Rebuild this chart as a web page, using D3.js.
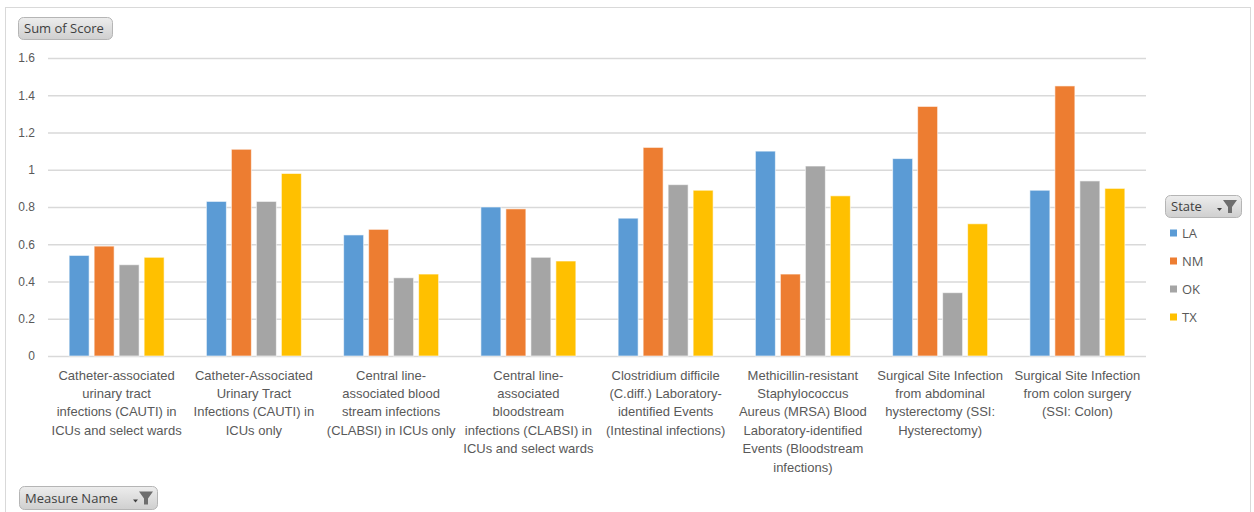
<!DOCTYPE html>
<html>
<head>
<meta charset="utf-8">
<script src="https://cdn.jsdelivr.net/npm/d3@7/dist/d3.min.js"></script>
<style>
  html, body { margin: 0; padding: 0; background: #fff; }
  svg { display: block; font-family: "Open Sans", "DejaVu Sans", sans-serif; }
</style>
</head>
<body>
<svg id="chart" width="1254" height="512"></svg>
<script>
// Measures (x-axis categories), wrapped into the lines shown under each group
const categoryLines = [
  ["Catheter-associated", "urinary tract", "infections (CAUTI) in", "ICUs and select wards"],
  ["Catheter-Associated", "Urinary Tract", "Infections (CAUTI) in", "ICUs only"],
  ["Central line-", "associated blood", "stream infections", "(CLABSI) in ICUs only"],
  ["Central line-", "associated", "bloodstream", "infections (CLABSI) in", "ICUs and select wards"],
  ["Clostridium difficile", "(C.diff.) Laboratory-", "identified Events", "(Intestinal infections)"],
  ["Methicillin-resistant", "Staphylococcus", "Aureus (MRSA) Blood", "Laboratory-identified", "Events (Bloodstream", "infections)"],
  ["Surgical Site Infection", "from abdominal", "hysterectomy (SSI:", "Hysterectomy)"],
  ["Surgical Site Infection", "from colon surgery", "(SSI: Colon)"]
];
const categories = categoryLines.map(l => l.join(" "));

// States (series)
const states = ["LA", "NM", "OK", "TX"];
const stateColors = ["#5B9BD5", "#ED7D31", "#A5A5A5", "#FFC000"];

// Sum of Score per measure, one array per state
const scoreLA = [0.54, 0.83, 0.65, 0.80, 0.74, 1.10, 1.06, 0.89];
const scoreNM = [0.59, 1.11, 0.68, 0.79, 1.12, 0.44, 1.34, 1.45];
const scoreOK = [0.49, 0.83, 0.42, 0.53, 0.92, 1.02, 0.34, 0.94];
const scoreTX = [0.53, 0.98, 0.44, 0.51, 0.89, 0.86, 0.71, 0.90];
const seriesValues = [scoreLA, scoreNM, scoreOK, scoreTX];

// Y axis ticks
const yTicks = [0, 0.2, 0.4, 0.6, 0.8, 1, 1.2, 1.4, 1.6];

const svg = d3.select("#chart");
const plot = { left: 48, right: 1146, top: 58, bottom: 356 };

// Chart frame
svg.append("rect")
  .attr("x", 5.5).attr("y", 7.5)
  .attr("width", 1245).attr("height", 520)
  .attr("fill", "#fff").attr("stroke", "#D9D9D9").attr("stroke-width", 1);

const y = d3.scaleLinear().domain([0, 1.6]).range([plot.bottom, plot.top]);
const x0 = d3.scaleBand().domain(categories).range([plot.left, plot.right]).padding(0);
const groupW = x0.bandwidth() * 0.692;
const x1 = d3.scaleBand().domain(states)
  .range([(x0.bandwidth() - groupW) / 2, (x0.bandwidth() + groupW) / 2])
  .paddingInner(0.2).paddingOuter(0);

// Gridlines and y labels
const yAxis = d3.axisLeft(y).tickValues(yTicks)
  .tickSize(-(plot.right - plot.left)).tickPadding(13)
  .tickFormat(d => d3.format("")(d));
const gy = svg.append("g").attr("transform", `translate(${plot.left},0)`).call(yAxis);
gy.select(".domain").remove();
gy.selectAll(".tick line").attr("stroke", "#D9D9D9").attr("stroke-width", 1.3);
gy.selectAll(".tick text").attr("fill", "#595959").style("font-size", "12px");

// Bars
const groups = svg.append("g").selectAll("g")
  .data(categories).join("g")
  .attr("transform", d => `translate(${x0(d)},0)`);
groups.selectAll("rect")
  .data((d, i) => states.map((s, j) => ({ state: s, value: seriesValues[j][i], color: stateColors[j] })))
  .join("rect")
  .attr("x", d => x1(d.state))
  .attr("width", x1.bandwidth())
  .attr("y", d => y(d.value))
  .attr("height", d => y(0) - y(d.value))
  .attr("fill", d => d.color)
  .attr("stroke", "#fff").attr("stroke-opacity", 0.6).attr("stroke-width", 1);

// Category labels
const xAxis = d3.axisBottom(x0).tickSize(0).tickFormat("");
const gx = svg.append("g").attr("transform", `translate(0,${plot.bottom})`).call(xAxis);
gx.select(".domain").remove();
gx.selectAll(".tick").each(function(d, i) {
  const t = d3.select(this).append("text")
    .attr("text-anchor", "middle").attr("fill", "#595959")
    .style("font-size", "13px");
  categoryLines[i].forEach((line, k) => {
    t.append("tspan").attr("x", 0).attr("y", 23.5 + k * 18.4).text(line);
  });
});

// Field button helper
function fieldButton(x, yy, w, h, label, withFilter) {
  const id = "btn-" + label.replace(/\s/g, "");
  const g = svg.append("g").attr("transform", `translate(${x},${yy})`);
  const grad = svg.append("defs").append("linearGradient")
    .attr("id", id).attr("x1", 0).attr("y1", 0).attr("x2", 0).attr("y2", 1);
  grad.append("stop").attr("offset", 0).attr("stop-color", "#EDEDED");
  grad.append("stop").attr("offset", 1).attr("stop-color", "#CFCFCF");
  g.append("rect").attr("x", 0.5).attr("y", 0.5).attr("width", w).attr("height", h)
    .attr("rx", 5).attr("fill", `url(#${id})`)
    .attr("stroke", "#B5B5B5");
  g.append("text").attr("x", 6).attr("y", h / 2 + 5)
    .attr("fill", "#3F3F3F").style("font-size", "13px").text(label);
  if (withFilter) {
    const fx = w - 24;
    // small dropdown arrow
    g.append("path").attr("d", `M${fx},${h / 2 + 2} l5,0 l-2.5,3 z`).attr("fill", "#404040");
    // funnel
    g.append("path")
      .attr("d", `M${fx + 6},${h / 2 - 6} L${fx + 20},${h / 2 - 6} L${fx + 15},${h / 2 + 1} L${fx + 15},${h / 2 + 7} L${fx + 11},${h / 2 + 7} L${fx + 11},${h / 2 + 1} Z`)
      .attr("fill", "#6E6E6E");
  }
}

fieldButton(18, 17, 94, 22, "Sum of Score", false);
fieldButton(19, 486, 138, 23, "Measure Name", true);
fieldButton(1165, 195, 76, 22, "State", true);

// Legend
const legend = svg.append("g").selectAll("g").data(states).join("g")
  .attr("transform", (d, i) => `translate(1170,${233 + i * 28})`);
legend.append("rect").attr("x", 0).attr("y", -3.5).attr("width", 7).attr("height", 7)
  .attr("fill", (d, i) => stateColors[i]);
legend.append("text").attr("x", 12).attr("y", 4.5)
  .attr("fill", "#595959").style("font-size", "13px").text(d => d);
</script>
</body>
</html>
